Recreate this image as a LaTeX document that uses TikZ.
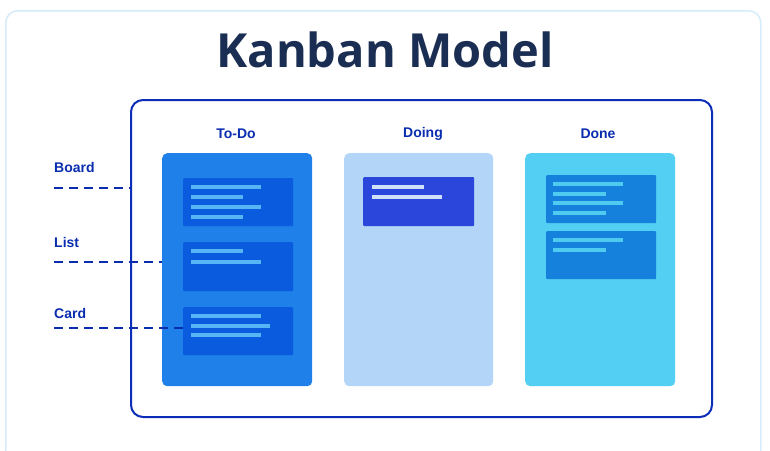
\documentclass[tikz,border=0pt]{standalone}
\usepackage{fontspec}
\setmainfont{Liberation Sans}
\newfontfamily\titlefont{Open Sans}
\usetikzlibrary{positioning}
\definecolor{framelight}{HTML}{D5ECFA}
\definecolor{boardblue}{HTML}{0B2DB8}
\definecolor{labelblue}{HTML}{0A2DB0}
\definecolor{titlenavy}{HTML}{1A2D52}
\definecolor{todocol}{HTML}{1E80E8}
\definecolor{todocard}{HTML}{0B5BDF}
\definecolor{todobar}{HTML}{55B5F5}
\definecolor{doingcol}{HTML}{B2D5F8}
\definecolor{doingcard}{HTML}{2B47DB}
\definecolor{doingbar}{HTML}{CFE0F8}
\definecolor{donecol}{HTML}{52CFF2}
\definecolor{donecard}{HTML}{1581DD}
\definecolor{donebar}{HTML}{4FCBF0}

\begin{document}
\begin{tikzpicture}[x=1pt,y=-1pt,font=\bfseries\fontsize{14}{16}\selectfont,
 col/.style={rounded corners=5pt,anchor=north west,inner sep=0pt,minimum width=150pt,minimum height=233pt},
 card/.style={anchor=north west,inner sep=0pt,rounded corners=1pt,minimum width=110pt,minimum height=48pt},
 lbl/.style={text=labelblue,inner sep=0pt},
 guide/.style={draw=labelblue,line width=2.2pt,dash pattern=on 9pt off 6pt}]
\clip (0,0) rectangle (770,450);
\fill[white] (0,0) rectangle (770,450);
\node[draw=framelight,line width=1.5pt,rounded corners=12pt,anchor=north west,minimum width=755pt,minimum height=480pt] (frame) at (5,10) {};
\node[font=\titlefont\bfseries\fontsize{47}{50}\selectfont,text=titlenavy] (title) at (385,50) {Kanban Model};
\node[draw=boardblue,line width=2pt,rounded corners=12pt,anchor=north west,minimum width=581pt,minimum height=317pt] (board) at (130,99) {};
\node[lbl] (todolbl) at (236,134) {To-Do};
\node[lbl] (doinglbl) at (423,134) {Doing};
\node[lbl] (donelbl) at (598,134) {Done};
\node[col,fill=todocol] (todo) at (162,153) {};
\node[col,fill=doingcol,minimum width=149pt] (doing) at (344,153) {};
\node[col,fill=donecol] (done) at (525,153) {};
\node[card,fill=todocard] (t1) at (183,178) {};
\node[card,fill=todocard,minimum height=49pt] (t2) at (183,242) {};
\node[card,fill=todocard] (t3) at (183,307) {};
\node[card,fill=doingcard,minimum width=111pt,minimum height=49pt] (d1) at (363,177) {};
\node[card,fill=donecard] (n1) at (546,175) {};
\node[card,fill=donecard] (n2) at (546,231) {};
\foreach \dy/\len in {7/70,17/52,27/70,37/52}
  \fill[todobar] ([shift={(8,\dy)}]t1.north west) rectangle +(\len,4);
\foreach \dy/\len in {7/52,18/70}
  \fill[todobar] ([shift={(8,\dy)}]t2.north west) rectangle +(\len,4);
\foreach \dy/\len in {7/70,17/79,26/70}
  \fill[todobar] ([shift={(8,\dy)}]t3.north west) rectangle +(\len,4);
\foreach \dy/\len in {8/52,18/70}
  \fill[doingbar] ([shift={(9,\dy)}]d1.north west) rectangle +(\len,4);
\foreach \dy/\len in {7/70,17/53,26/70,36/53}
  \fill[donebar] ([shift={(7,\dy)}]n1.north west) rectangle +(\len,4);
\foreach \dy/\len in {7/70,17/53}
  \fill[donebar] ([shift={(7,\dy)}]n2.north west) rectangle +(\len,4);
\node[lbl,anchor=west] (boardlbl) at (54,167) {Board};
\node[lbl,anchor=west] (listlbl) at (54,242) {List};
\node[lbl,anchor=west] (cardlbl) at (54,313) {Card};
\coordinate (boardend) at (54,188);
\coordinate (listend) at (54,262);
\coordinate (cardend) at (54,328);
\draw[guide] (boardend) -- (board.west |- boardend);
\draw[guide] (listend) -- (todo.west |- listend);
\draw[guide] (cardend) -- (t3.west |- cardend);
\end{tikzpicture}
\end{document}
